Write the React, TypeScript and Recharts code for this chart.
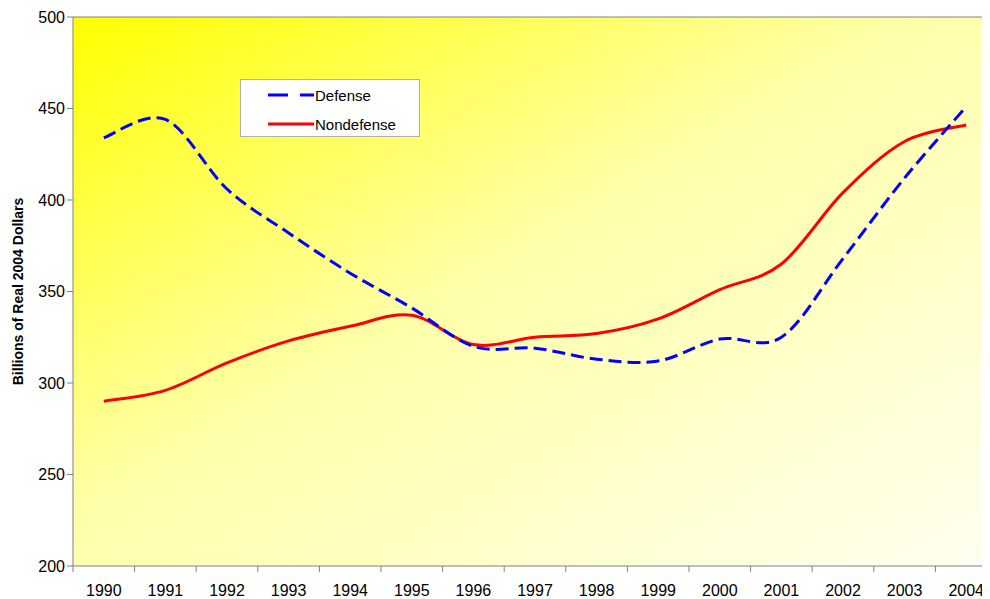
import React from "react";
import {
  LineChart,
  Line,
  XAxis,
  YAxis,
  CartesianGrid,
  ReferenceLine,
} from "recharts";

const years = [
  "1990", "1991", "1992", "1993", "1994", "1995", "1996", "1997",
  "1998", "1999", "2000", "2001", "2002", "2003", "2004",
];
const defense = [434, 444, 406, 382, 360, 341, 320, 319, 313, 312, 324, 325, 368, 412, 451];
const nondefense = [290, 296, 311, 323, 331, 337, 321, 325, 327, 335, 351, 365, 404, 432, 441];
const yTicks = [200, 250, 300, 350, 400, 450, 500];

const data = years.map((year, i) => ({
  year,
  defense: defense[i],
  nondefense: nondefense[i],
}));

const FONT = "'Liberation Sans', Arial, sans-serif";
const CHART_W = 1005;
const CHART_H = 599;
const Y_W = 73;
const RIGHT = 8;
const BAND = (CHART_W - Y_W - RIGHT) / years.length;

// spreadsheet-style smoothed line (catmull-rom bezier), passed to Line as a curve factory
function smoothCurve(context: any) {
  let pts: number[][] = [];
  return {
    areaStart() {},
    areaEnd() {},
    lineStart() {
      pts = [];
    },
    point(x: number, y: number) {
      pts.push([+x, +y]);
    },
    lineEnd() {
      if (!pts.length) return;
      context.moveTo(pts[0][0], pts[0][1]);
      const k = 1 / 6;
      for (let i = 0; i < pts.length - 1; i++) {
        const p0 = pts[i - 1] || pts[i];
        const p1 = pts[i];
        const p2 = pts[i + 1];
        const p3 = pts[i + 2] || p2;
        context.bezierCurveTo(
          p1[0] + k * (p2[0] - p0[0]),
          p1[1] + k * (p2[1] - p0[1]),
          p2[0] - k * (p3[0] - p1[0]),
          p2[1] - k * (p3[1] - p1[1]),
          p2[0],
          p2[1]
        );
      }
    },
  };
}

function YearTick({ x, y, payload }: { x: number; y: number; payload: { value: string } }) {
  return (
    <g>
      <line x1={x - BAND / 2} y1={566} x2={x - BAND / 2} y2={572} stroke="#808080" />
      <text x={x} y={y + 22} textAnchor="middle" fontSize={16} fill="#000" fontFamily={FONT}>
        {payload.value}
      </text>
    </g>
  );
}

function LegendBox() {
  return (
    <div
      style={{
        position: "absolute",
        left: 240,
        top: 79,
        width: 180,
        height: 58,
        background: "#fff",
        border: "1px solid #b0b0b0",
        boxSizing: "border-box",
        fontFamily: FONT,
        fontSize: 15,
        color: "#000",
        padding: "5px 0 0 27px",
      }}
    >
      <div style={{ display: "flex", alignItems: "center", height: 20 }}>
        <svg width={46} height={6}>
          <line x1={0} y1={3} x2={46} y2={3} stroke="#0000ff" strokeWidth={3} strokeDasharray="20 12" />
        </svg>
        <span style={{ marginLeft: 1 }}>Defense</span>
      </div>
      <div style={{ display: "flex", alignItems: "center", height: 20, marginTop: 9 }}>
        <svg width={46} height={6}>
          <line x1={0} y1={3} x2={46} y2={3} stroke="#ff0000" strokeWidth={3} />
        </svg>
        <span style={{ marginLeft: 1 }}>Nondefense</span>
      </div>
    </div>
  );
}

export default function App() {
  return (
    <div
      style={{
        position: "relative",
        margin: "-8px 0 0 -8px",
        width: 990,
        height: 599,
        overflow: "hidden",
        background: "#fff",
      }}
    >
      <LineChart
        width={CHART_W}
        height={CHART_H}
        data={data}
        margin={{ top: 17, right: RIGHT, bottom: 0, left: 0 }}
      >
        <defs>
          <linearGradient id="bgFill" x1="0" y1="0" x2="1" y2="1">
            <stop offset="0%" stopColor="#ffff00" />
            <stop offset="45%" stopColor="#ffffa8" />
            <stop offset="100%" stopColor="#fffff2" />
          </linearGradient>
        </defs>
        <CartesianGrid fill="url(#bgFill)" horizontal={false} vertical={false} />
        <XAxis
          dataKey="year"
          height={33}
          axisLine={{ stroke: "#808080" }}
          tickLine={false}
          tick={YearTick}
          interval={0}
          padding={{ left: BAND / 2, right: BAND / 2 }}
        />
        <YAxis
          width={Y_W}
          domain={[200, 500]}
          ticks={yTicks}
          axisLine={{ stroke: "#808080" }}
          tickLine={{ stroke: "#808080" }}
          tickSize={6}
          tick={{ fill: "#000", fontSize: 16, fontFamily: FONT }}
          label={{
            content: ({ viewBox }: any) => (
              <text
                x={viewBox.x + 18}
                y={viewBox.y + viewBox.height / 2}
                transform={`rotate(-90 ${viewBox.x + 18} ${viewBox.y + viewBox.height / 2})`}
                textAnchor="middle"
                dominantBaseline="central"
                fontSize={14}
                fontWeight="bold"
                fontFamily={FONT}
                fill="#000"
              >
                Billions of Real 2004 Dollars
              </text>
            ),
          }}
        />
        <ReferenceLine y={500} stroke="#808080" />
        <Line
          type={smoothCurve as any}
          dataKey="nondefense"
          name="Nondefense"
          stroke="#ff0000"
          strokeWidth={3}
          dot={false}
          isAnimationActive={false}
        />
        <Line
          type={smoothCurve as any}
          dataKey="defense"
          name="Defense"
          stroke="#0000ff"
          strokeWidth={3}
          strokeDasharray="13 6"
          dot={false}
          isAnimationActive={false}
        />
      </LineChart>
      <LegendBox />
    </div>
  );
}
